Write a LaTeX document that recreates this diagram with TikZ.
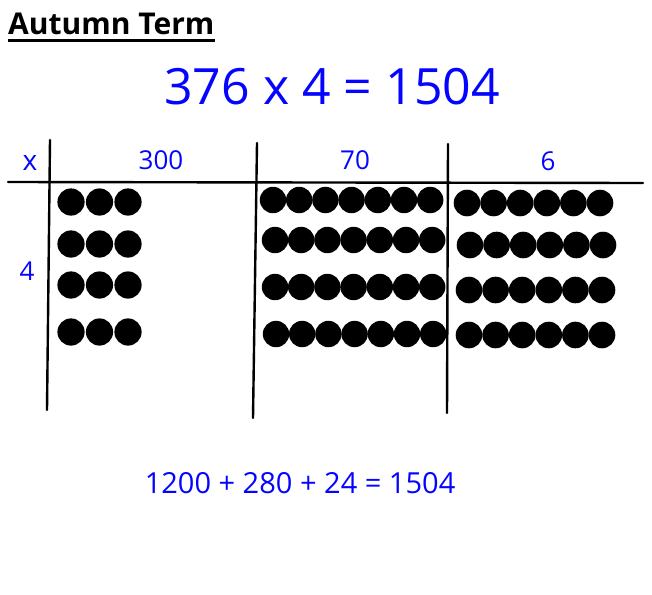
\documentclass[tikz,border=0pt]{standalone}
\usepackage{fontspec}
\setmainfont{Open Sans}
\definecolor{penblue}{RGB}{5,5,255}
\begin{document}
\begin{tikzpicture}[x=1pt,y=-1pt,
  gridline/.style={line width=2.4pt,line cap=round,black},
  bluetext/.style={text=penblue,inner sep=0pt,anchor=center},
  dot/.style={fill=black,draw=none}]
\useasboundingbox[fill=white] (0,0) rectangle (652,594);
% title
\node[anchor=base west,inner sep=0pt,font=\fontsize{30}{33}\selectfont\bfseries] (title) at (8,35) {Autumn Term};
\draw[line width=3pt] (title.base west) ++(0,6) coordinate (ul1) -- (ul1 -| title.east);
% main equation
\node[bluetext,font=\fontsize{50}{54}\selectfont] (eq) at (332,87) {376 x 4 = 1504};
% grid lines
\coordinate (h1) at (8,182);
\coordinate (h2) at (643,183);
\draw[gridline] (h1) -- (h2);
\coordinate (v1t) at (50,140); \coordinate (v1b) at (47,410);
\coordinate (v2t) at (257,143); \coordinate (v2b) at (253,418);
\coordinate (v3t) at (448,144); \coordinate (v3b) at (447,413);
\draw[gridline] (v1t) -- (v1b);
\draw[gridline] (v2t) -- (v2b);
\draw[gridline] (v3t) -- (v3b);
% headers
\node[bluetext,font=\fontsize{28}{30}\selectfont] (times) at (30,163) {x};
\node[bluetext,font=\fontsize{26}{30}\selectfont] (h300) at (161,160) {300};
\node[bluetext,font=\fontsize{26}{30}\selectfont] (h70) at (355,160) {70};
\node[bluetext,font=\fontsize{26}{30}\selectfont] (h6) at (548,161) {6};
\node[bluetext,font=\fontsize{26}{30}\selectfont] (f4) at (27,271) {4};
% dots: column 300
\foreach \y in {202,244,285,332}
  \foreach \i in {0,1,2}
    \fill[dot] (71+28.5*\i,\y) circle (13.6);
% dots: column 70
\foreach \x/\y in {273/200,275/240,275/287,276/334}
  \foreach \i in {0,...,6}
    \fill[dot] (\x+26.2*\i,\y) circle (13.2);
% dots: column 6
\foreach \x/\y in {467/203,470/245,469/290,469/335}
  \foreach \i in {0,...,5}
    \fill[dot] (\x+26.6*\i,\y) circle (13.3);
% sum
\node[bluetext,font=\fontsize{29}{32}\selectfont] (sum) at (300,483) {1200 + 280 + 24 = 1504};
\end{tikzpicture}
\end{document}
